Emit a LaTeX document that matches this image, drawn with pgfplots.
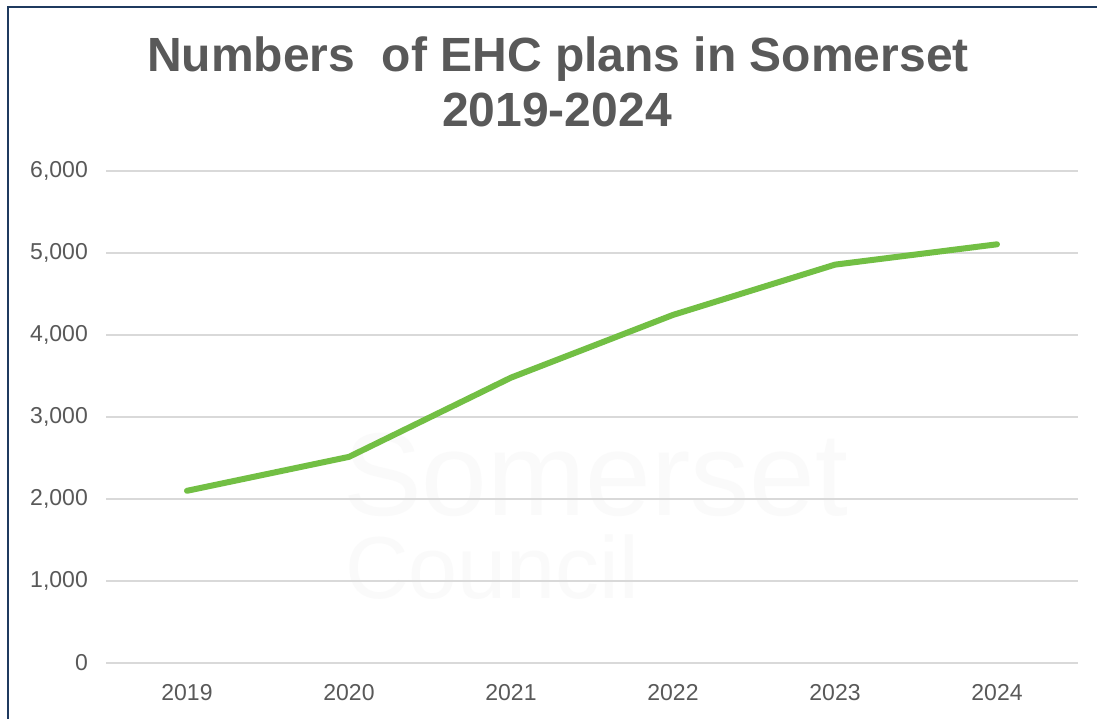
\documentclass[border=0pt]{standalone}
\usepackage{pgfplots}
\pgfplotsset{compat=1.18}
\usepackage{fontspec}
\setmainfont{Liberation Sans}
\definecolor{txt}{HTML}{595959}
\definecolor{gridc}{HTML}{D9D9D9}
\definecolor{linec}{HTML}{72BF44}
\definecolor{bord}{HTML}{1F3A5F}
\begin{document}
\begin{tikzpicture}[x=1pt,y=1pt]
\useasboundingbox (0pt,0pt) rectangle (1097pt,718pt);
\fill[white] (0pt,0pt) rectangle (1097pt,718pt);
% faint watermark
\node[anchor=base west, inner sep=0, text=black!2, font=\fontsize{118}{118}\selectfont] at (343pt,203pt) {Somerset};
\node[anchor=base west, inner sep=0, text=black!2, font=\fontsize{88}{88}\selectfont] at (345pt,120pt) {Council};
\begin{axis}[
  at={(106pt,55pt)}, anchor=south west,
  width=972pt, height=492pt, scale only axis,
  xmin=-0.5, xmax=5.5, ymin=0, ymax=6000,
  xtick={0,1,2,3,4,5},
  xticklabels={2019,2020,2021,2022,2023,2024},
  ytick={0,1000,2000,3000,4000,5000,6000},
  scaled y ticks=false,
  /pgf/number format/.cd, 1000 sep={,}, assume math mode=true, /pgfplots/.cd,
  ymajorgrids, grid style={gridc, line width=1.5pt},
  axis line style={draw=none},
  major tick length=0pt,
  tick label style={text=txt, font=\fontsize{23}{23}\selectfont, inner sep=0pt},
  yticklabel style={anchor=east, xshift=-18pt},
  xticklabel style={anchor=north, yshift=-21pt},
  clip=false,
]
\addplot[linec, line width=6pt, line cap=round, line join=round] coordinates {
  (0,2100) (1,2514) (2,3480) (3,4245) (4,4858) (5,5106)
};
\end{axis}
\node[anchor=base, inner sep=0, text=txt, font=\bfseries\fontsize{48}{48}\selectfont] at (558pt,646pt) {Numbers\ \ of EHC plans in Somerset};
\node[anchor=base, inner sep=0, text=txt, font=\bfseries\fontsize{48}{48}\selectfont] at (557pt,591pt) {2019-2024};
\draw[bord, line width=2pt] (8pt,-10pt) -- (8pt,711pt) -- (1110pt,711pt);
\end{tikzpicture}
\end{document}
